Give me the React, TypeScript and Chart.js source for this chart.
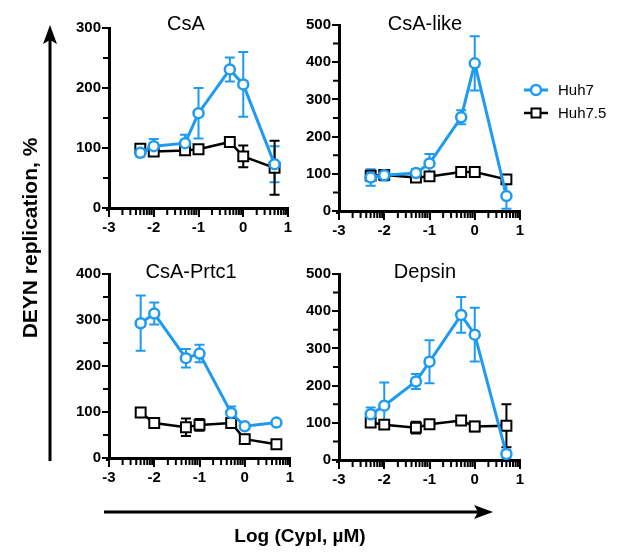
import React, { useEffect, useRef } from 'react';
import { Chart, registerables } from 'chart.js';

Chart.register(...registerables);

// ---- data ----
const logDose = [-2.3, -2, -1.3, -1, -0.3, 0, 0.7];
const seriesNames = ['Huh7', 'Huh7.5'];
const xTickValues = [-3, -2, -1, 0, 1];
const panelTitles = ['CsA', 'CsA-like', 'CsA-Prtc1', 'Depsin'];
const yMaxes = [300, 500, 400, 500];

const csaHuh7 = [92, 103, 108, 158, 231, 206, 73];
const csaHuh7Err = [6, 12, 14, 42, 20, 54, 30];
const csaHuh75 = [99, 94, 96, 98, 110, 86, 67];
const csaHuh75Err = [5, 6, 6, 5, 4, 18, 45];

const likeHuh7 = [90, 96, 102, 128, 252, 397, 40];
const likeHuh7Err = [22, 14, 10, 25, 19, 73, 34];
const likeHuh75 = [95, 97, 90, 93, 105, 105, 85];
const likeHuh75Err = [8, 10, 10, 8, 8, 12, 8];

const prtcHuh7 = [293, 314, 217, 227, 98, 69, 77];
const prtcHuh7Err = [60, 24, 20, 19, 14, 0, 0];
const prtcHuh75 = [99, 76, 67, 72, 76, 41, 30];
const prtcHuh75Err = [8, 0, 19, 13, 10, 0, 0];

const depsinHuh7 = [123, 146, 211, 264, 390, 337, 16];
const depsinHuh7Err = [18, 62, 20, 58, 48, 72, 10];
const depsinHuh75 = [101, 95, 87, 96, 106, 90, 92];
const depsinHuh75Err = [8, 6, 16, 10, 12, 13, 58];

const yAxisTitle = 'DEYN replication, %';
const xAxisTitle = 'Log (CypI, µM)';

// ---- style ----
const W = 618;
const H = 555;
const BLUE = '#1E9BF0';
const BLACK = '#000000';
const FONT = '"Liberation Sans", Arial, Helvetica, sans-serif';

type Area = { l: number; t: number; r: number; b: number };
type Panel = {
  title: string;
  yMax: number;
  huh7: number[];
  huh7Err: number[];
  huh75: number[];
  huh75Err: number[];
  area: Area;
  titlePos: { x: number; y: number };
  legend?: boolean;
  axes?: boolean;
};

const panels: Panel[] = [
  { title: panelTitles[0], yMax: yMaxes[0], huh7: csaHuh7, huh7Err: csaHuh7Err, huh75: csaHuh75, huh75Err: csaHuh75Err,
    area: { l: 109, t: 28, r: 288, b: 208 }, titlePos: { x: 186, y: 24 } },
  { title: panelTitles[1], yMax: yMaxes[1], huh7: likeHuh7, huh7Err: likeHuh7Err, huh75: likeHuh75, huh75Err: likeHuh75Err,
    area: { l: 339, t: 25, r: 520, b: 211 }, titlePos: { x: 425, y: 24 }, legend: true },
  { title: panelTitles[2], yMax: yMaxes[2], huh7: prtcHuh7, huh7Err: prtcHuh7Err, huh75: prtcHuh75, huh75Err: prtcHuh75Err,
    area: { l: 109, t: 274, r: 290, b: 458 }, titlePos: { x: 191, y: 272 }, axes: true },
  { title: panelTitles[3], yMax: yMaxes[3], huh7: depsinHuh7, huh7Err: depsinHuh7Err, huh75: depsinHuh75, huh75Err: depsinHuh75Err,
    area: { l: 339, t: 274, r: 520, b: 460 }, titlePos: { x: 425, y: 272 } },
];

const errorBarPlugin = {
  id: 'errorBars',
  beforeDatasetsDraw(chart: any) {
    const { ctx } = chart;
    const xs = chart.scales.x;
    const ys = chart.scales.y;
    chart.data.datasets.forEach((ds: any) => {
      const errs: number[] = ds.errors;
      if (!errs) return;
      ctx.save();
      ctx.strokeStyle = ds.borderColor;
      ctx.lineWidth = 2;
      ds.data.forEach((p: any, i: number) => {
        const e = errs[i];
        if (!e) return;
        const px = xs.getPixelForValue(p.x);
        const top = ys.getPixelForValue(p.y + e);
        const bot = ys.getPixelForValue(Math.max(0, p.y - e));
        ctx.beginPath();
        ctx.moveTo(px, top);
        ctx.lineTo(px, bot);
        ctx.moveTo(px - 5, top);
        ctx.lineTo(px + 5, top);
        ctx.moveTo(px - 5, bot);
        ctx.lineTo(px + 5, bot);
        ctx.stroke();
      });
      ctx.restore();
    });
  },
};

const minorTickPlugin = {
  id: 'minorTicks',
  afterDraw(chart: any) {
    const { ctx, chartArea } = chart;
    const xs = chart.scales.x;
    const ys = chart.scales.y;
    ctx.save();
    ctx.strokeStyle = BLACK;
    ctx.lineWidth = 2;
    ctx.beginPath();
    for (let d = -3; d < 1; d++) {
      for (let k = 2; k <= 9; k++) {
        const px = xs.getPixelForValue(d + Math.log10(k));
        ctx.moveTo(px, chartArea.bottom);
        ctx.lineTo(px, chartArea.bottom + 7);
      }
    }
    const step = 100;
    for (let v = step / 2; v < ys.max; v += step) {
      const py = ys.getPixelForValue(v);
      ctx.moveTo(chartArea.left, py);
      ctx.lineTo(chartArea.left - 6, py);
    }
    ctx.stroke();
    ctx.fillStyle = BLACK;
    ctx.fillRect(chartArea.left - 3, chartArea.bottom, 3, 3);
    ctx.restore();
  },
};

const titlePlugin = {
  id: 'panelTitle',
  afterDraw(chart: any, _args: any, opts: any) {
    const { ctx } = chart;
    ctx.save();
    ctx.fillStyle = BLACK;
    ctx.font = `20px ${FONT}`;
    ctx.textAlign = 'center';
    ctx.textBaseline = 'middle';
    ctx.fillText(opts.text, opts.x, opts.y);
    ctx.restore();
  },
};

const legendPlugin = {
  id: 'customLegend',
  afterDraw(chart: any, _args: any, opts: any) {
    if (!opts.show) return;
    const { ctx } = chart;
    const rows = [90, 113];
    chart.data.datasets.forEach((ds: any, i: number) => {
      const y = rows[i];
      ctx.save();
      ctx.strokeStyle = ds.borderColor;
      ctx.lineWidth = ds.borderWidth;
      ctx.beginPath();
      ctx.moveTo(524, y);
      ctx.lineTo(548, y);
      ctx.stroke();
      ctx.lineWidth = ds.pointBorderWidth;
      ctx.fillStyle = '#fff';
      ctx.beginPath();
      if (ds.pointStyle === 'rect') {
        ctx.rect(531.5, y - 4.5, 9, 9);
      } else {
        ctx.arc(536, y, 5, 0, Math.PI * 2);
      }
      ctx.fill();
      ctx.stroke();
      ctx.fillStyle = BLACK;
      ctx.font = `15px ${FONT}`;
      ctx.textAlign = 'left';
      ctx.textBaseline = 'middle';
      ctx.fillText(ds.label, 558, y + 1);
      ctx.restore();
    });
  },
};

const bigAxesPlugin = {
  id: 'bigAxes',
  afterDraw(chart: any, _args: any, opts: any) {
    if (!opts.show) return;
    const { ctx } = chart;
    ctx.save();
    ctx.strokeStyle = BLACK;
    ctx.fillStyle = BLACK;
    ctx.lineWidth = 3;
    // vertical arrow
    ctx.beginPath();
    ctx.moveTo(50, 461);
    ctx.lineTo(50, 36);
    ctx.stroke();
    ctx.beginPath();
    ctx.moveTo(50, 25);
    ctx.lineTo(43, 44);
    ctx.lineTo(50, 40);
    ctx.lineTo(57, 44);
    ctx.closePath();
    ctx.fill();
    // horizontal arrow
    ctx.beginPath();
    ctx.moveTo(104, 512);
    ctx.lineTo(482, 512);
    ctx.stroke();
    ctx.beginPath();
    ctx.moveTo(493, 512);
    ctx.lineTo(474, 505);
    ctx.lineTo(478, 512);
    ctx.lineTo(474, 519);
    ctx.closePath();
    ctx.fill();
    // titles
    ctx.textAlign = 'center';
    ctx.textBaseline = 'middle';
    ctx.font = `bold 19px ${FONT}`;
    ctx.fillText(opts.xTitle, 300, 537);
    ctx.font = `bold 21px ${FONT}`;
    ctx.translate(31, 238);
    ctx.rotate(-Math.PI / 2);
    ctx.fillText(opts.yTitle, 0, 0);
    ctx.restore();
  },
};

function PanelChart({ panel }: { panel: Panel }) {
  const ref = useRef<HTMLCanvasElement | null>(null);
  useEffect(() => {
    if (!ref.current) return;
    const a = panel.area;
    const tickFont = { family: FONT, size: 15, weight: 'bold' as const };
    const chart = new Chart(ref.current, {
      type: 'line',
      data: {
        datasets: [
          {
            label: seriesNames[0],
            data: logDose.map((x, i) => ({ x, y: panel.huh7[i] })),
            errors: panel.huh7Err,
            borderColor: BLUE,
            backgroundColor: '#fff',
            borderWidth: 3,
            pointStyle: 'circle',
            pointRadius: 5,
            pointBorderWidth: 2.5,
            pointBackgroundColor: '#fff',
            pointBorderColor: BLUE,
            tension: 0,
            clip: false,
          } as any,
          {
            label: seriesNames[1],
            data: logDose.map((x, i) => ({ x, y: panel.huh75[i] })),
            errors: panel.huh75Err,
            borderColor: BLACK,
            backgroundColor: '#fff',
            borderWidth: 2.5,
            pointStyle: 'rect',
            pointRadius: 7,
            pointBorderWidth: 2,
            pointBackgroundColor: '#fff',
            pointBorderColor: BLACK,
            tension: 0,
            clip: false,
          } as any,
        ],
      },
      options: {
        responsive: false,
        animation: false,
        devicePixelRatio: 1,
        events: [],
        layout: {
          padding: { left: a.l - 50, top: a.t, right: W - a.r, bottom: H - a.b - 35 },
        },
        plugins: {
          legend: { display: false },
          title: { display: false },
          tooltip: { enabled: false },
          panelTitle: { text: panel.title, x: panel.titlePos.x, y: panel.titlePos.y },
          customLegend: { show: !!panel.legend },
          bigAxes: { show: !!panel.axes, xTitle: xAxisTitle, yTitle: yAxisTitle },
        } as any,
        scales: {
          x: {
            type: 'linear',
            min: -3,
            max: 1,
            afterBuildTicks: (s: any) => {
              s.ticks = xTickValues.map((v) => ({ value: v }));
            },
            afterFit: (s: any) => {
              s.height = 35;
            },
            border: { color: BLACK, width: 3 },
            grid: { drawOnChartArea: false, color: BLACK, lineWidth: 2, tickLength: 9 },
            ticks: {
              color: BLACK,
              font: tickFont,
              padding: 2,
              maxRotation: 0,
              autoSkip: false,
              callback: (v: any) => String(v),
            },
          },
          y: {
            type: 'linear',
            min: 0,
            max: panel.yMax,
            afterFit: (s: any) => {
              s.width = 50;
            },
            border: { color: BLACK, width: 3 },
            grid: { drawOnChartArea: false, color: BLACK, lineWidth: 2, tickLength: 7 },
            ticks: {
              stepSize: 100,
              color: BLACK,
              font: tickFont,
              padding: 1,
              callback: (v: any) => String(v),
            },
          },
        },
      },
      plugins: [errorBarPlugin, minorTickPlugin, titlePlugin, legendPlugin, bigAxesPlugin],
    } as any);
    return () => chart.destroy();
  }, [panel]);
  return (
    <canvas
      ref={ref}
      width={W}
      height={H}
      style={{ position: 'absolute', left: 0, top: 0, width: W, height: H }}
    />
  );
}

export default function App() {
  return (
    <div style={{ position: 'absolute', left: 0, top: 0, width: W, height: H, background: '#fff' }}>
      {panels.map((p) => (
        <PanelChart key={p.title} panel={p} />
      ))}
    </div>
  );
}
